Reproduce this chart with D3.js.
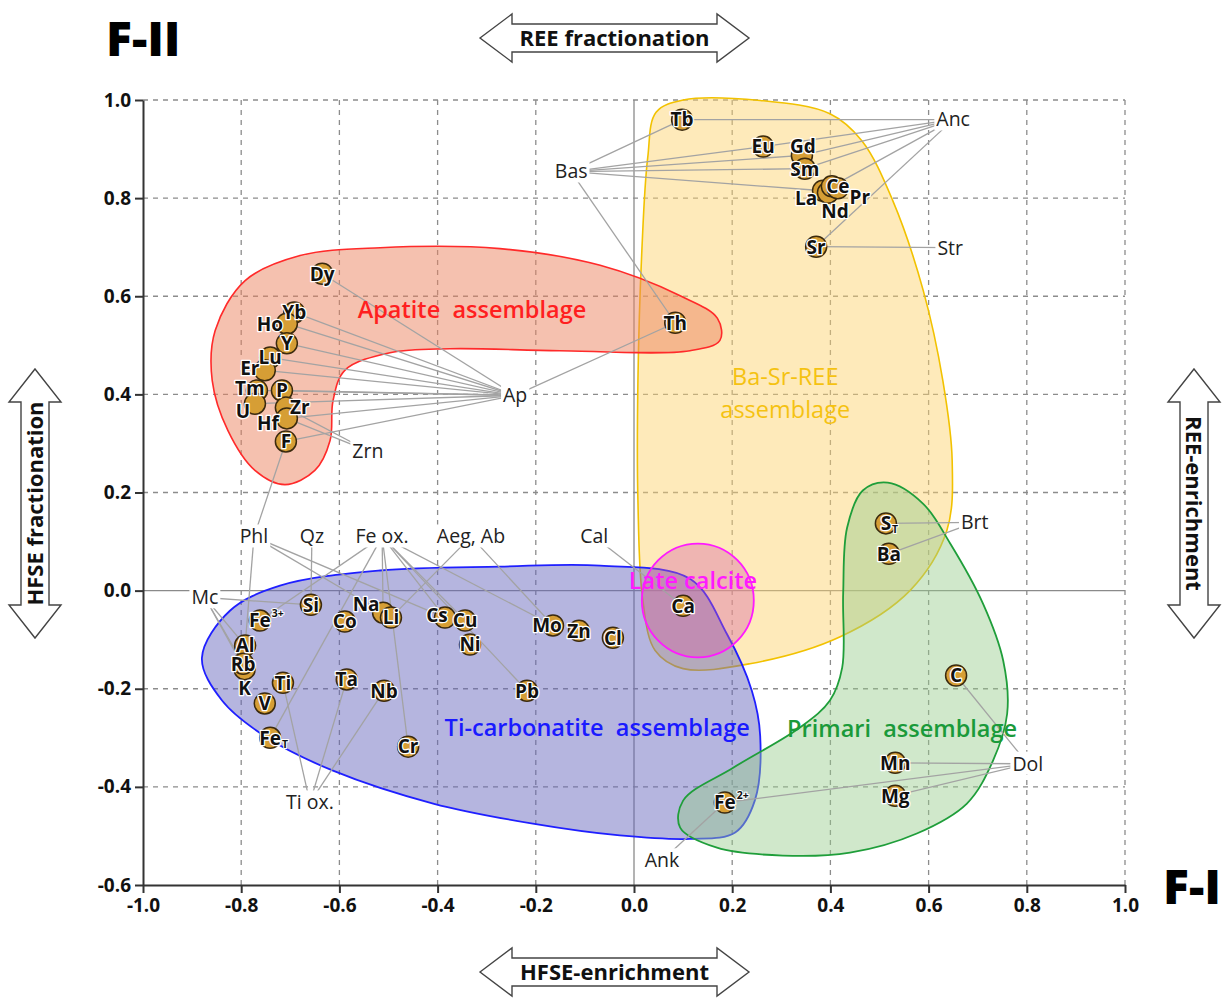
<!DOCTYPE html>
<html lang="en">
<head>
<meta charset="UTF-8">
<title>F-I / F-II factor plot</title>
<script src="https://d3js.org/d3.v7.min.js"></script>
<style>
  body { margin: 0; background: #fff; }
  svg text { font-family: "Open Sans", "Lato", sans-serif; }
</style>
</head>
<body>
<div id="chart"></div>
<script>
// ticks
const xTicks = [-1.0, -0.8, -0.6, -0.4, -0.2, 0.0, 0.2, 0.4, 0.6, 0.8, 1.0];
const yTicks = [-0.6, -0.4, -0.2, 0.0, 0.2, 0.4, 0.6, 0.8, 1.0];

// elements: [name, F-I, F-II]
const reeElements = [
  ["Tb", 0.098, 0.960], ["Eu", 0.263, 0.905], ["Gd", 0.342, 0.887], ["Sm", 0.348, 0.860],
  ["La", 0.385, 0.815], ["Nd", 0.395, 0.811], ["Ce", 0.403, 0.824], ["Pr", 0.415, 0.820],
  ["Sr", 0.371, 0.701], ["Th", 0.084, 0.546]
];
const apatiteElements = [
  ["Dy", -0.635, 0.646], ["Yb", -0.692, 0.567], ["Ho", -0.707, 0.544], ["Y", -0.707, 0.504],
  ["Lu", -0.741, 0.475], ["Er", -0.752, 0.449], ["Tm", -0.768, 0.408], ["P", -0.717, 0.408],
  ["U", -0.772, 0.381], ["Zr", -0.709, 0.373], ["Hf", -0.707, 0.351], ["F", -0.709, 0.304]
];
const tiCarbElements = [
  ["Fe3+", -0.762, -0.061], ["Si", -0.658, -0.029], ["Co", -0.589, -0.063], ["Na", -0.511, -0.045],
  ["Li", -0.495, -0.055], ["Cs", -0.385, -0.055], ["Cu", -0.344, -0.061], ["Ni", -0.334, -0.110],
  ["Mo", -0.165, -0.071], ["Zn", -0.112, -0.082], ["Cl", -0.043, -0.096], ["K", -0.793, -0.160],
  ["Al", -0.792, -0.112], ["Rb", -0.796, -0.149], ["Ti", -0.715, -0.188], ["V", -0.752, -0.230],
  ["FeT", -0.741, -0.300], ["Ta", -0.585, -0.181], ["Nb", -0.509, -0.204], ["Cr", -0.460, -0.318],
  ["Pb", -0.218, -0.204], ["Ca", 0.100, -0.031]
];
const primaryElements = [
  ["ST", 0.513, 0.137], ["Ba", 0.519, 0.075], ["C", 0.656, -0.173],
  ["Mn", 0.532, -0.351], ["Mg", 0.532, -0.418], ["Fe2+", 0.185, -0.432]
];

// minerals: [label, F-I, F-II, linked elements]
const minerals = [
  ["Anc", 0.650, 0.960, ["Tb", "Eu", "Gd", "Sm", "Ce", "Sr"]],
  ["Bas", -0.128, 0.854, ["Tb", "Eu", "Gd", "Sm", "La", "Th"]],
  ["Str", 0.644, 0.699, ["Sr"]],
  ["Ap", -0.242, 0.398, ["Dy", "Yb", "Ho", "Y", "Lu", "Er", "Tm", "P", "U", "Hf", "F", "Th"]],
  ["Zrn", -0.542, 0.285, ["Zr", "Hf"]],
  ["Brt", 0.694, 0.139, ["ST", "Ba"]],
  ["Dol", 0.802, -0.353, ["C", "Mn", "Mg", "Fe2+"]],
  ["Ank", 0.057, -0.550, ["Fe2+"]],
  ["Cal", -0.081, 0.110, ["Ca"]],
  ["Phl", -0.774, 0.110, ["F", "Al", "Na", "Cs"]],
  ["Qz", -0.656, 0.110, ["Si"]],
  ["Fe ox.", -0.513, 0.110, ["Fe3+", "FeT", "Na", "Cr", "Cs", "Cu", "Pb", "Mo"]],
  ["Aeg, Ab", -0.332, 0.110, ["Li", "Mo"]],
  ["Mc", -0.874, -0.014, ["Si", "Al", "Rb", "K"]],
  ["Ti ox.", -0.660, -0.432, ["Ti", "Ta", "Nb"]]
];

// assemblage outlines [F-I, F-II]
const apatiteOutline = [
  [-0.853, 0.530], [-0.792, 0.632], [-0.680, 0.683], [-0.517, 0.699], [-0.273, 0.697],
  [-0.069, 0.663], [0.094, 0.601], [0.170, 0.555], [0.175, 0.510], [0.114, 0.489],
  [-0.151, 0.489], [-0.375, 0.493], [-0.497, 0.485], [-0.589, 0.449], [-0.613, 0.387],
  [-0.619, 0.306], [-0.650, 0.245], [-0.711, 0.216], [-0.772, 0.245], [-0.827, 0.326],
  [-0.859, 0.428]
];
const baSrReeOutline = [
  [0.045, 0.975], [0.100, 1.000], [0.257, 0.999], [0.399, 0.972], [0.464, 0.917],
  [0.527, 0.795], [0.589, 0.612], [0.629, 0.428], [0.648, 0.265], [0.637, 0.122],
  [0.562, 0.000], [0.420, -0.094], [0.236, -0.149], [0.100, -0.159], [0.043, -0.122],
  [0.018, -0.020], [0.008, 0.183], [0.008, 0.428], [0.016, 0.693], [0.028, 0.883]
];
const tiCarbOutline = [
  [-0.880, -0.137], [-0.823, -0.041], [-0.721, 0.010], [-0.517, 0.041], [-0.273, 0.049],
  [-0.069, 0.051], [0.114, 0.024], [0.189, -0.088], [0.240, -0.204], [0.257, -0.296],
  [0.246, -0.428], [0.206, -0.493], [0.114, -0.506], [-0.029, -0.499], [-0.206, -0.475],
  [-0.409, -0.434], [-0.613, -0.367], [-0.747, -0.300], [-0.839, -0.224]
];
const primaryOutline = [
  [0.517, 0.220], [0.589, 0.177], [0.644, 0.096], [0.711, -0.027], [0.752, -0.143],
  [0.760, -0.251], [0.731, -0.347], [0.678, -0.434], [0.576, -0.495], [0.440, -0.534],
  [0.303, -0.540], [0.169, -0.524], [0.094, -0.483], [0.100, -0.428], [0.202, -0.361],
  [0.338, -0.279], [0.399, -0.224], [0.424, -0.157], [0.426, -0.006], [0.434, 0.128],
  [0.466, 0.204]
];
// late calcite ellipse: centre and radii
const lateCalcite = [0.130, -0.020, 0.114, 0.116];

// assemblage names [text, F-I, F-II]
const regionLabels = [
  ["Apatite  assemblage", -0.330, 0.573],
  ["Ba-Sr-REE", 0.308, 0.436],
  ["assemblage", 0.308, 0.369],
  ["Ti-carbonatite  assemblage", -0.075, -0.279],
  ["Primari  assemblage", 0.546, -0.281],
  ["Late calcite", 0.120, 0.021]
];

const W = 1225, H = 999;
const svg = d3.select("#chart").append("svg").attr("width", W).attr("height", H);
const x = d3.scaleLinear().domain([-1, 1]).range([143, 1125]);
const y = d3.scaleLinear().domain([-0.6, 1]).range([885, 100]);

// dashed grid
svg.append("g").selectAll("line").data(xTicks.filter(d => d > -1 && d !== 0)).join("line")
  .attr("x1", d => x(d)).attr("x2", d => x(d)).attr("y1", y(1)).attr("y2", y(-0.6))
  .attr("stroke", "#8c8c8c").attr("stroke-width", 1.3).attr("stroke-dasharray", "5,5");
svg.append("g").selectAll("line").data(yTicks.filter(d => d > -0.6 && d !== 0)).join("line")
  .attr("x1", x(-1)).attr("x2", x(1)).attr("y1", d => y(d)).attr("y2", d => y(d))
  .attr("stroke", "#8c8c8c").attr("stroke-width", 1.3).attr("stroke-dasharray", "5,5");

// zero lines
svg.append("line").attr("x1", x(0)).attr("x2", x(0)).attr("y1", y(1)).attr("y2", y(-0.6))
  .attr("stroke", "#8a8a8a").attr("stroke-width", 1.3);
svg.append("line").attr("x1", x(-1)).attr("x2", x(1)).attr("y1", y(0)).attr("y2", y(0))
  .attr("stroke", "#8a8a8a").attr("stroke-width", 1.3);

// assemblage areas
const blob = d3.line().x(d => x(d[0])).y(d => y(d[1])).curve(d3.curveCatmullRomClosed.alpha(0.5));
const areas = svg.append("g");
areas.append("path").attr("d", blob(baSrReeOutline))
  .attr("fill", "rgb(253,212,110)").attr("fill-opacity", 0.48).attr("stroke", "#f2c200").attr("stroke-width", 1.6);
areas.append("path").attr("d", blob(tiCarbOutline))
  .attr("fill", "rgb(100,100,188)").attr("fill-opacity", 0.48).attr("stroke", "#1f1fff").attr("stroke-width", 1.8);
areas.append("path").attr("d", blob(apatiteOutline))
  .attr("fill", "rgb(236,132,96)").attr("fill-opacity", 0.5).attr("stroke", "#ff2a2a").attr("stroke-width", 1.6);
areas.append("path").attr("d", blob(primaryOutline))
  .attr("fill", "rgb(150,205,140)").attr("fill-opacity", 0.45).attr("stroke", "#1f9e3a").attr("stroke-width", 1.8);
areas.append("ellipse")
  .attr("cx", x(lateCalcite[0])).attr("cy", y(lateCalcite[1]))
  .attr("rx", x(lateCalcite[2]) - x(0)).attr("ry", y(0) - y(lateCalcite[3]))
  .attr("fill", "rgb(215,95,165)").attr("fill-opacity", 0.38).attr("stroke", "#ff1aff").attr("stroke-width", 1.8);

// leader lines
const allElements = [].concat(reeElements, apatiteElements, tiCarbElements, primaryElements);
const byName = new Map(allElements.map(d => [d[0], d]));
const links = [];
minerals.forEach(m => m[3].forEach(t => links.push([m, byName.get(t)])));
svg.append("g").selectAll("line").data(links).join("line")
  .attr("x1", d => x(d[0][1])).attr("y1", d => y(d[0][2]))
  .attr("x2", d => x(d[1][1])).attr("y2", d => y(d[1][2]))
  .attr("stroke", "#a3a3a3").attr("stroke-width", 1.3);

// mineral labels with white boxes
const mg = svg.append("g");
minerals.forEach(m => {
  const t = mg.append("text").attr("x", x(m[1])).attr("y", y(m[2])).attr("dy", "0.35em")
    .attr("text-anchor", "middle").attr("font-size", 19.5).attr("fill", "#222").text(m[0]);
  const b = t.node().getBBox();
  mg.insert("rect", () => t.node())
    .attr("x", b.x - 2).attr("y", b.y + 2).attr("width", b.width + 4).attr("height", b.height - 4)
    .attr("fill", "#fff");
});

// element markers
const subSup = { "Fe3+": ["Fe", "3+", -7], "Fe2+": ["Fe", "2+", -7], "FeT": ["Fe", "T", 6], "ST": ["S", "T", 6] };
const labelShift = {
  Gd: [1, -9], La: [-17, 7], Ce: [6, 0], Nd: [7, 18], Pr: [22, 9],
  Ho: [-17, 0], Er: [-15, -2], Tm: [-7, -2], U: [-12, 7], Zr: [14, 0], Hf: [-19, 5],
  Na: [-17, -9], Cs: [-8, -2], Mo: [-6, 0], K: [0, 19]
};
const eg = svg.append("g");
eg.selectAll("circle").data(allElements).join("circle")
  .attr("cx", d => x(d[1])).attr("cy", d => y(d[2])).attr("r", 10.5)
  .attr("fill", "#d69e35").attr("stroke", "#3b2a0e").attr("stroke-width", 1.5);
allElements.forEach(d => {
  const s = labelShift[d[0]] || [0, 0];
  const cx = x(d[1]) + s[0], cy = y(d[2]) + s[1];
  const parts = subSup[d[0]];
  const t = eg.append("text").attr("x", cx).attr("y", cy).attr("dy", "0.36em")
    .attr("text-anchor", "middle").attr("font-size", 19).attr("font-weight", 700)
    .attr("fill", "#111").attr("stroke", "#fff").attr("stroke-width", 2.6)
    .attr("paint-order", "stroke").attr("stroke-linejoin", "round")
    .text(parts ? parts[0] : d[0]);
  if (parts) {
    const w = t.node().getComputedTextLength();
    eg.append("text").attr("x", cx + w / 2 + 1).attr("y", cy + parts[2]).attr("dy", "0.36em")
      .attr("font-size", 10.5).attr("font-weight", 700).attr("fill", "#111")
      .attr("stroke", "#fff").attr("stroke-width", 2).attr("paint-order", "stroke")
      .text(parts[1]);
  }
});

// assemblage names
const regionColors = ["#ff1f1f", "#f5c211", "#f5c211", "#1a1aff", "#1a9a3a", "#ff1aff"];
const regionWeights = [600, 400, 400, 600, 600, 600];
svg.append("g").selectAll("text").data(regionLabels).join("text")
  .attr("x", d => x(d[1])).attr("y", d => y(d[2])).attr("dy", "0.35em")
  .attr("text-anchor", "middle").attr("font-size", 23.5).style("white-space", "pre")
  .attr("font-weight", (d, i) => regionWeights[i])
  .attr("fill", (d, i) => regionColors[i]).text(d => d[0]);

// axes
const yAxis = svg.append("g").attr("transform", `translate(${x(-1)},0)`)
  .call(d3.axisLeft(y).tickValues(yTicks).tickSize(8).tickSizeOuter(0).tickPadding(4).tickFormat(d => d.toFixed(1)));
const xAxis = svg.append("g").attr("transform", `translate(0,${y(-0.6)})`)
  .call(d3.axisBottom(x).tickValues(xTicks).tickSize(8).tickSizeOuter(0).tickPadding(6).tickFormat(d => d.toFixed(1)));
[yAxis, xAxis].forEach(a => {
  a.select(".domain").attr("stroke", "#333").attr("stroke-width", 2);
  a.selectAll(".tick line").attr("stroke", "#333").attr("stroke-width", 2);
  a.selectAll(".tick text").attr("fill", "#111").attr("font-size", 19).attr("font-weight", 700)
    .attr("font-family", "Open Sans, sans-serif");
});
xAxis.selectAll(".tick text").attr("font-family", "'Liberation Sans Narrow', 'DejaVu Sans Condensed', sans-serif")
  .attr("font-size", 19);

// factor titles
svg.append("text").attr("x", 106).attr("y", 56).attr("font-size", 48).attr("font-weight", 800)
  .attr("fill", "#000").text("F-II");
svg.append("text").attr("x", 1163).attr("y", 904).attr("font-size", 48).attr("font-weight", 800)
  .attr("fill", "#000").text("F-I");

// double arrows
function hArrow(x0, x1, cy, label, font) {
  const hw = 24, sw = 14, hl = 32;
  const p = [[x0, cy], [x0 + hl, cy - hw], [x0 + hl, cy - sw], [x1 - hl, cy - sw], [x1 - hl, cy - hw],
             [x1, cy], [x1 - hl, cy + hw], [x1 - hl, cy + sw], [x0 + hl, cy + sw], [x0 + hl, cy + hw]];
  svg.append("path").attr("d", d3.line()(p) + "Z").attr("fill", "#fff").attr("stroke", "#444").attr("stroke-width", 1.4);
  svg.append("text").attr("x", (x0 + x1) / 2).attr("y", cy).attr("dy", "0.35em").attr("text-anchor", "middle")
    .attr("font-family", font).attr("font-size", 22).attr("font-weight", 700).attr("fill", "#111").text(label);
}
function vArrow(cx, y0, y1, label, rot) {
  const hw = 26, sw = 14, hl = 33;
  const p = [[cx, y0], [cx + hw, y0 + hl], [cx + sw, y0 + hl], [cx + sw, y1 - hl], [cx + hw, y1 - hl],
             [cx, y1], [cx - hw, y1 - hl], [cx - sw, y1 - hl], [cx - sw, y0 + hl], [cx - hw, y0 + hl]];
  svg.append("path").attr("d", d3.line()(p) + "Z").attr("fill", "#fff").attr("stroke", "#444").attr("stroke-width", 1.4);
  const cy = (y0 + y1) / 2;
  svg.append("text").attr("transform", `translate(${cx},${cy}) rotate(${rot})`).attr("dy", "0.35em")
    .attr("text-anchor", "middle").attr("font-size", 22).attr("font-weight", 700).attr("fill", "#111").text(label);
}
hArrow(480, 749, 38, "REE fractionation", "Open Sans, sans-serif");
hArrow(480, 749, 972, "HFSE-enrichment", "'Liberation Sans Narrow', 'DejaVu Sans Condensed', sans-serif");
vArrow(35, 369, 638, "HFSE fractionation", -90);
vArrow(1194, 369, 638, "REE-enrichment", 90);
</script>
</body>
</html>
